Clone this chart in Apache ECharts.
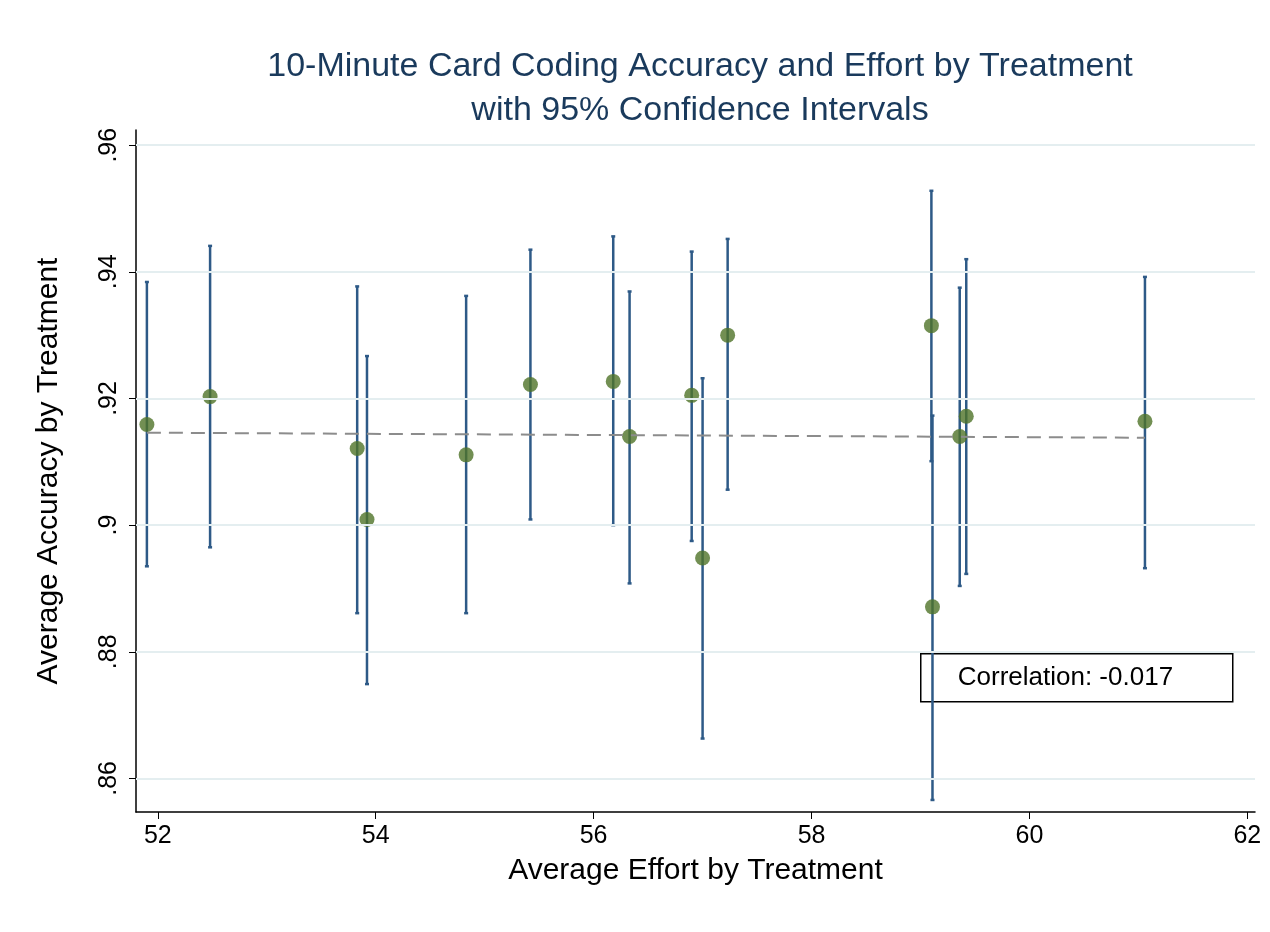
<!DOCTYPE html>
<html><head><meta charset="utf-8">
<script src="https://cdn.jsdelivr.net/npm/echarts@6/dist/echarts.min.js"></script>
<style>html,body{margin:0;background:#fff}#c{width:1270px;height:932px}</style>
</head><body><div id="c"></div>
<script>
var effort = [51.90, 52.48, 53.83, 53.92, 54.83, 55.42, 56.18, 56.33, 56.90, 57.00, 57.23, 59.10, 59.11, 59.36, 59.42, 61.06];
var accuracy = [.9159, .9203, .9121, .9009, .9111, .9222, .9227, .9140, .9205, .8948, .9300, .9315, .8871, .9140, .9172, .9164];
var ciHigh = [.9384, .9441, .9377, .9267, .9362, .9435, .9456, .9369, .9432, .9232, .9452, .9528, .9173, .9375, .9420, .9392];
var ciLow = [.8935, .8965, .8861, .8749, .8861, .9009, .9000, .8908, .8975, .8663, .9056, .9101, .8566, .8904, .8923, .8932];
var fitLine = [[51.90, .9146], [61.06, .9138]];
var xTicks = [52, 54, 56, 58, 60, 62];
var yTicks = [.86, .88, .90, .92, .94, .96];

var chart = echarts.init(document.getElementById('c'));
var font = 'Liberation Sans, Arial, sans-serif';
var bars = effort.map(function (x, i) { return [x, ciLow[i], ciHigh[i]]; });
var points = effort.map(function (x, i) { return [x, accuracy[i]]; });
var grid = yTicks.map(function (v) { return { yAxis: v }; });

option = {
	backgroundColor: '#fff',
	animation: false,
	title: {
		text: '10-Minute Card Coding Accuracy and Effort by Treatment\nwith 95% Confidence Intervals',
		left: 695, top: 40, textAlign: 'center',
		textStyle: { fontFamily: font, fontWeight: 'normal', fontSize: 34, lineHeight: 44, color: '#1a3a5c' }
	},
	grid: { left: 136, right: 15, top: 130, bottom: 120 },
	xAxis: {
		type: 'value', min: 51.8, max: 62.07,
		name: 'Average Effort by Treatment', nameLocation: 'middle', nameGap: 44,
		nameTextStyle: { fontFamily: font, fontSize: 30, color: '#000' },
		axisLine: { onZero: false, lineStyle: { color: '#000', width: 1.5 } },
		axisTick: { show: true, length: 7, customValues: xTicks, lineStyle: { color: '#000' } },
		axisLabel: { customValues: xTicks, fontFamily: font, fontSize: 25, color: '#000', margin: 12 },
		splitLine: { show: false }
	},
	yAxis: {
		type: 'value', min: 0.8547, max: 0.9624,
		name: 'Average Accuracy by Treatment', nameLocation: 'middle', nameGap: 72,
		nameTextStyle: { fontFamily: font, fontSize: 30, color: '#000' },
		axisLine: { show: true, onZero: false, lineStyle: { color: '#000', width: 1.5 } },
		axisTick: { show: true, length: 7, customValues: yTicks, lineStyle: { color: '#000' } },
		axisLabel: {
			customValues: yTicks, rotate: 90, fontFamily: font, fontSize: 25, color: '#000', margin: 14,
			formatter: function (v) { return String(+v.toFixed(2)).replace(/^0/, ''); }
		},
		splitLine: { show: false }
	},
	series: [{
		type: 'line', data: [], silent: true,
		markLine: { symbol: 'none', label: { show: false }, lineStyle: { color: '#e4eef0', type: 'solid', width: 2 }, data: grid }
	}, {
		type: 'custom',
		renderItem: function (params, api) {
			var top = api.coord([api.value(0), api.value(2)]);
			var bot = api.coord([api.value(0), api.value(1)]);
			var s = { stroke: '#2e5a87', lineWidth: 2.5 };
			return { type: 'group', children: [
				{ type: 'line', shape: { x1: top[0], y1: top[1], x2: bot[0], y2: bot[1] }, style: s },
				{ type: 'line', shape: { x1: top[0] - 2, y1: top[1], x2: top[0] + 2, y2: top[1] }, style: s },
				{ type: 'line', shape: { x1: bot[0] - 2, y1: bot[1], x2: bot[0] + 2, y2: bot[1] }, style: s }
			] };
		},
		data: bars
	}, {
		type: 'line', data: fitLine, symbol: 'none',
		lineStyle: { color: '#8c8c8c', width: 2, type: [14, 8] }
	}, {
		type: 'scatter', data: points, symbolSize: 15,
		itemStyle: { color: '#4f7328' }
	}],
	graphic: [{
		type: 'group', left: 920, top: 653,
		children: [
			{ type: 'rect', shape: { width: 312, height: 48 }, style: { fill: '#fff', stroke: '#000', lineWidth: 1.5 } },
			{ type: 'text', x: 37, y: 11, style: { text: 'Correlation: -0.017', font: '26px ' + font, fill: '#000' } }
		]
	}]
};
chart.setOption(option);
</script>
</body></html>
